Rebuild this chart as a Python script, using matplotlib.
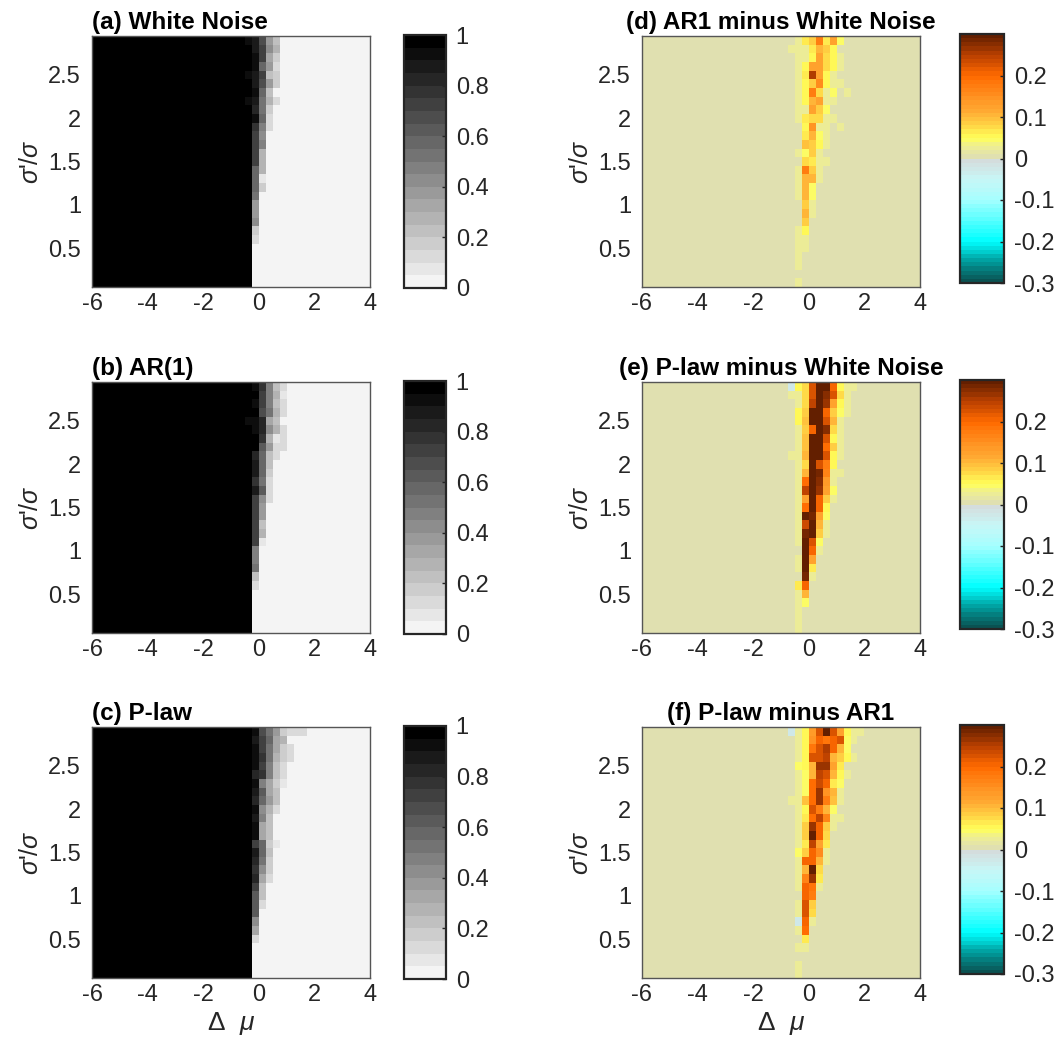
import numpy as np
import matplotlib
matplotlib.use("Agg")
import matplotlib.pyplot as plt
from matplotlib.colors import ListedColormap, LinearSegmentedColormap, Normalize

plt.rcParams['font.family'] = ['Liberation Sans', 'DejaVu Sans']
plt.rcParams['mathtext.fontset'] = 'custom'
plt.rcParams['mathtext.rm'] = 'Liberation Sans'
plt.rcParams['mathtext.it'] = 'Liberation Sans:italic'

# ---------------- grid definition ----------------
dmu_edges = np.arange(-6.0, 4.001, 0.25)      # 40 columns of width 0.25
sig_edges = np.arange(0.05, 2.951, 0.1)       # 29 rows: sigma'/sigma = 0.1 ... 2.9
WINDOW_START = -0.75                          # first column listed in each row below

x_ticks = [-6, -4, -2, 0, 2, 4]
x_ticklabels = ['-6', '-4', '-2', '0', '2', '4']
y_ticks = [0.5, 1, 1.5, 2, 2.5]
y_ticklabels = ['0.5', '1', '1.5', '2', '2.5']
prob_ticks = [0, 0.2, 0.4, 0.6, 0.8, 1]
prob_ticklabels = ['0', '0.2', '0.4', '0.6', '0.8', '1']
diff_ticks = [-0.3, -0.2, -0.1, 0, 0.1, 0.2]
diff_ticklabels = ['-0.3', '-0.2', '-0.1', '0', '0.1', '0.2']

titles = ['(a) White Noise', '(b) AR(1)', '(c) P-law',
          '(d) AR1 minus White Noise', '(e) P-law minus White Noise', '(f) P-law minus AR1']

# Rows listed from sigma'/sigma = 2.9 (top) down to 0.1 (bottom).
# Each row gives the values for columns starting at d_mu = -0.75 (step 0.25);
# columns left of the window are 1 (panels a-c) or 0 (panels d-f), missing trailing values are 0.
white_noise = [
    [1, .90, .85, .65, .35, .20],
    [1, 1, .85, .70, .40, .25],
    [1, 1, .90, .70, .30, .15],
    [1, 1, .90, .55, .35, .10],
    [1, .90, .85, .70, .20, .15],
    [1, 1, .85, .65, .35, .15],
    [1, 1, .90, .55, .20],
    [1, .90, .85, .50, .25, .10],
    [1, 1, .80, .50, .15],
    [1, 1, .90, .55, .10],
    [1, 1, .75, .45, .10],
    [1, 1, .70, .40],
    [1, 1, .70, .45],
    [1, 1, .70, .25],
    [1, 1, .70, .25],
    [1, 1, .55, .25],
    [1, 1, .55, .05],
    [1, 1, .55, .15],
    [1, 1, .50],
    [1, 1, .35],
    [1, 1, .35],
    [1, 1, .40],
    [1, 1, .15],
    [1, 1, .10],
    [1, 1], [1, 1], [1, 1], [1, 1], [1, 1],
]

ar1 = [
    [1, 1, .90, .75, .45, .20, .10],
    [1, 1, .95, .70, .45, .25, .05],
    [1, 1, .90, .70, .45, .20, .10],
    [1, 1, .95, .65, .50, .25, .10],
    [1, .90, .90, .80, .30, .20],
    [1, 1, .90, .80, .40, .25, .10],
    [1, 1, .95, .75, .25, .05, .10],
    [1, 1, .95, .60, .35, .10, .10],
    [1, 1, .80, .55, .20, .10],
    [1, 1, .85, .55, .20],
    [1, 1, .85, .55, .15],
    [1, 1, .75, .50, .10],
    [1, 1, .85, .60, .10],
    [1, 1, .70, .40, .10],
    [1, 1, .70, .35],
    [1, 1, .70, .35],
    [1, 1, .70, .20],
    [1, 1, .70, .25],
    [1, 1, .70, .05],
    [1, 1, .45],
    [1, 1, .45],
    [1, 1, .50],
    [1, 1, .20],
    [1, 1, .10],
    [1, 1], [1, 1], [1, 1], [1, 1], [1, 1],
]

p_law = [
    [1, 1, .90, .65, .50, .35, .15, .10, .10, .10],
    [1, .95, .85, .70, .55, .30, .25],
    [1, 1, .90, .70, .50, .30, .15, .10],
    [1, 1, .90, .75, .50, .25, .15, .10],
    [1, .95, .90, .70, .45, .20, .10],
    [1, 1, .80, .75, .45, .20, .10],
    [1, 1, .90, .45, .30, .15, .05],
    [1, .95, .85, .60, .30, .20],
    [1, .95, .80, .55, .35, .20],
    [1, .95, .90, .40, .25, .10],
    [1, 1, .85, .45, .20],
    [1, 1, .90, .30, .20],
    [1, 1, .90, .30, .20],
    [1, 1, .70, .55, .15, .05],
    [1, 1, .85, .55, .20],
    [1, 1, .80, .50, .15],
    [1, 1, .75, .40, .15],
    [1, 1, .80, .30, .10],
    [1, 1, .70, .20],
    [1, 1, .60, .20],
    [1, 1, .60, .10],
    [1, 1, .60],
    [1, 1, .40],
    [1, 1, .30],
    [1, 1, .10],
    [1, 1], [1, 1], [1, 1], [1, 1],
]

ar1_minus_wn = [
    [0, .03, .06, .08, .17, .06, .12, .04],
    [.02, .02, .03, .06, .10, .08, .05],
    [0, .02, .03, .05, .12, .07, .05, .02],
    [0, .03, .05, .12, .12, .07, .05, .02],
    [0, .03, .06, .25, .12, .05, .02],
    [0, .03, .05, .08, .15, .05, .03, .02],
    [0, .02, .05, .17, .07, .03, .04, 0, .02],
    [0, .03, .05, .10, .12, .03, .03],
    [0, .03, .03, .12, .08, .04],
    [0, .03, .06, .07, .07, .02, .02],
    [0, 0, .05, .14, .03, .02, 0, .02],
    [0, 0, .06, .10, .04, .02],
    [0, 0, .09, .08, .05, .02],
    [0, .02, .04, .08, .02],
    [0, 0, .07, .06, .02, .02],
    [0, .02, .17, .08, .02],
    [0, .02, .10, .10, .02],
    [0, .02, .10, .04],
    [0, .02, .10, .04],
    [0, 0, .08, .02],
    [0, 0, .10, .02],
    [0, 0, .08],
    [0, .02, .05],
    [0, .03, .02],
    [0, .03, .02],
    [0, .02],
    [0, .02],
    [0],
    [0, .02],
]

plaw_minus_wn = [
    [-.03, .05, .07, .22, .30, .30, .20, .05, .03, .02],
    [.02, .03, .07, .22, .30, .27, .22, .07, .03],
    [0, .03, .07, .24, .30, .26, .12, .05, .03],
    [0, .05, .08, .29, .30, .20, .08, .04, .02],
    [0, .05, .09, .29, .30, .22, .10, .03],
    [0, .03, .08, .20, .30, .27, .07, .03],
    [0, .03, .09, .30, .30, .22, .05, .02],
    [0, .03, .09, .30, .29, .19, .08, .03],
    [.02, .03, .10, .30, .30, .22, .05, .02],
    [0, .03, .07, .29, .22, .17, .05],
    [0, .03, .10, .30, .28, .16, .03, .02],
    [0, .03, .19, .30, .27, .13, .03],
    [0, .03, .24, .30, .26, .12, .04],
    [0, .03, .12, .30, .20, .08, .02],
    [0, .02, .19, .29, .20, .05],
    [0, .02, .30, .28, .12, .04],
    [0, .03, .23, .30, .10, .02],
    [0, .03, .28, .30, .08, .02],
    [0, .03, .30, .22, .04],
    [0, 0, .29, .20, .02],
    [0, .02, .30, .12],
    [0, .02, .29, .06],
    [0, 0, .28, .02],
    [0, .06, .20],
    [0, .03, .10],
    [0, .03, .04],
    [0, .02],
    [0, .02],
    [0, .03],
]

plaw_minus_ar1 = [
    [-.03, .02, .05, .13, .22, .29, .22, .12, .05, .03, .02],
    [0, .02, .05, .14, .20, .18, .20, .22, .04, .02],
    [0, .02, .05, .18, .22, .25, .20, .10, .04],
    [0, .03, .05, .22, .22, .24, .10, .08, .05, .02],
    [0, .04, .05, .10, .26, .26, .12, .06],
    [0, .03, .04, .10, .24, .22, .10, .05, .03],
    [0, .02, .04, .19, .23, .20, .06, .04],
    [0, .03, .04, .19, .26, .14, .10, .03],
    [.02, .02, .09, .19, .26, .17, .09, .03],
    [0, .02, .05, .22, .17, .10, .04],
    [0, .03, .06, .19, .24, .16, .03, .02],
    [0, .02, .08, .26, .20, .08, .02],
    [0, .02, .08, .29, .20, .07],
    [0, .02, .06, .24, .12, .06],
    [0, .04, .08, .20, .15, .03],
    [0, .02, .20, .20, .10, .02],
    [0, .02, .10, .29, .07],
    [0, .02, .16, .26, .06],
    [0, .02, .20, .18, .03],
    [0, 0, .20, .17],
    [0, .02, .22, .08],
    [0, .02, .22, .07],
    [0, -.03, .20, .02],
    [0, .03, .19],
    [0, 0, .06],
    [0, .02, .02],
    [0],
    [0, .02],
    [0, .02],
]


def build(rows, left_fill):
    ncol = len(dmu_edges) - 1
    nrow = len(sig_edges) - 1
    start = int(round((WINDOW_START - dmu_edges[0]) / 0.25))
    Z = np.zeros((nrow, ncol))
    Z[:, :start] = left_fill
    for i, r in enumerate(rows):
        Z[i, start:start + len(r)] = r
    return np.flipud(Z)


# ---------------- colormaps ----------------
gray_cmap = ListedColormap([str(g) for g in np.linspace(0.955, 0.0, 20)])
prob_norm = Normalize(0, 1)

anchors = [(-0.30, '#0b4a4a'), (-0.25, '#009a9a'), (-0.20, '#00ffff'), (-0.15, '#55ffff'),
           (-0.10, '#a5ffff'), (-0.05, '#c8f6f6'), (-0.0001, '#d6dada'), (0.0, '#dcdcb8'),
           (0.03, '#efef90'), (0.05, '#ffff5a'), (0.08, '#ffd545'), (0.11, '#ffae35'),
           (0.15, '#ff9020'), (0.20, '#ff6a00'), (0.25, '#b94000'), (0.30, '#5a1c00')]
lin = LinearSegmentedColormap.from_list('d', [((v + 0.3) / 0.6, c) for v, c in anchors])
centers = -0.295 + 0.01 * np.arange(60)
diff_cmap = ListedColormap([lin((c + 0.3) / 0.6) for c in centers])
diff_norm = Normalize(-0.3, 0.3)

# ---------------- figure ----------------
W, H = 1062, 1051
fig = plt.figure(figsize=(W / 100, H / 100), dpi=100)

def fr(x0, y_top, w, h):
    return [x0 / W, 1 - (y_top + h) / H, w / W, h / H]

row_tops = [36, 382, 727]
left_x, right_x, ax_w, ax_h = 92, 642, 278, 251

panels = [
    (white_noise, 1, gray_cmap, prob_norm, 0, 0),
    (ar1, 1, gray_cmap, prob_norm, 1, 0),
    (p_law, 1, gray_cmap, prob_norm, 2, 0),
    (ar1_minus_wn, 0, diff_cmap, diff_norm, 0, 1),
    (plaw_minus_wn, 0, diff_cmap, diff_norm, 1, 1),
    (plaw_minus_ar1, 0, diff_cmap, diff_norm, 2, 1),
]

tc = '#262626'
fs = 17
for k, (rows, fill, cmap, norm, r, c) in enumerate(panels):
    x0 = left_x if c == 0 else right_x
    ax = fig.add_axes(fr(x0, row_tops[r], ax_w, ax_h))
    Z = build(rows, fill)
    m = ax.pcolormesh(dmu_edges, sig_edges, Z, cmap=cmap, norm=norm, shading='flat')
    ax.set_xlim(-6, 4)
    ax.set_ylim(sig_edges[0], sig_edges[-1])
    ax.set_xticks(x_ticks)
    ax.set_xticklabels(x_ticklabels)
    ax.set_yticks(y_ticks)
    ax.set_yticklabels(y_ticklabels)
    ax.tick_params(length=0, labelsize=fs, colors=tc)
    ax.tick_params(axis='x', pad=4)
    ax.tick_params(axis='y', pad=8)
    for s in ax.spines.values():
        s.set_color('#555555')
        s.set_linewidth(1.0)
    ax.set_ylabel(r"$\sigma$'/$\sigma$", fontsize=18, color=tc, labelpad=4)
    if r == 2:
        ax.set_xlabel(r"$\Delta$  $\mu$", fontsize=19, color=tc, labelpad=3)
    ax.set_title(titles[k], fontsize=17.5, fontweight='bold', loc='left' if c == 0 else 'center', pad=5)

    if c == 0:
        cax = fig.add_axes(fr(404, row_tops[r] - 1, 42, 253))
        cb = fig.colorbar(m, cax=cax, ticks=prob_ticks)
        cb.set_ticklabels(prob_ticklabels)
    else:
        cax = fig.add_axes(fr(960, row_tops[r] - 2, 44, 249))
        cb = fig.colorbar(m, cax=cax, ticks=diff_ticks)
        cb.set_ticklabels(diff_ticklabels)
    cb.outline.set_linewidth(1.6)
    cb.outline.set_edgecolor('#262626')
    cax.tick_params(direction='in', length=3, width=1, labelsize=fs, colors=tc, pad=7)

fig.savefig('out.png', dpi=100)
